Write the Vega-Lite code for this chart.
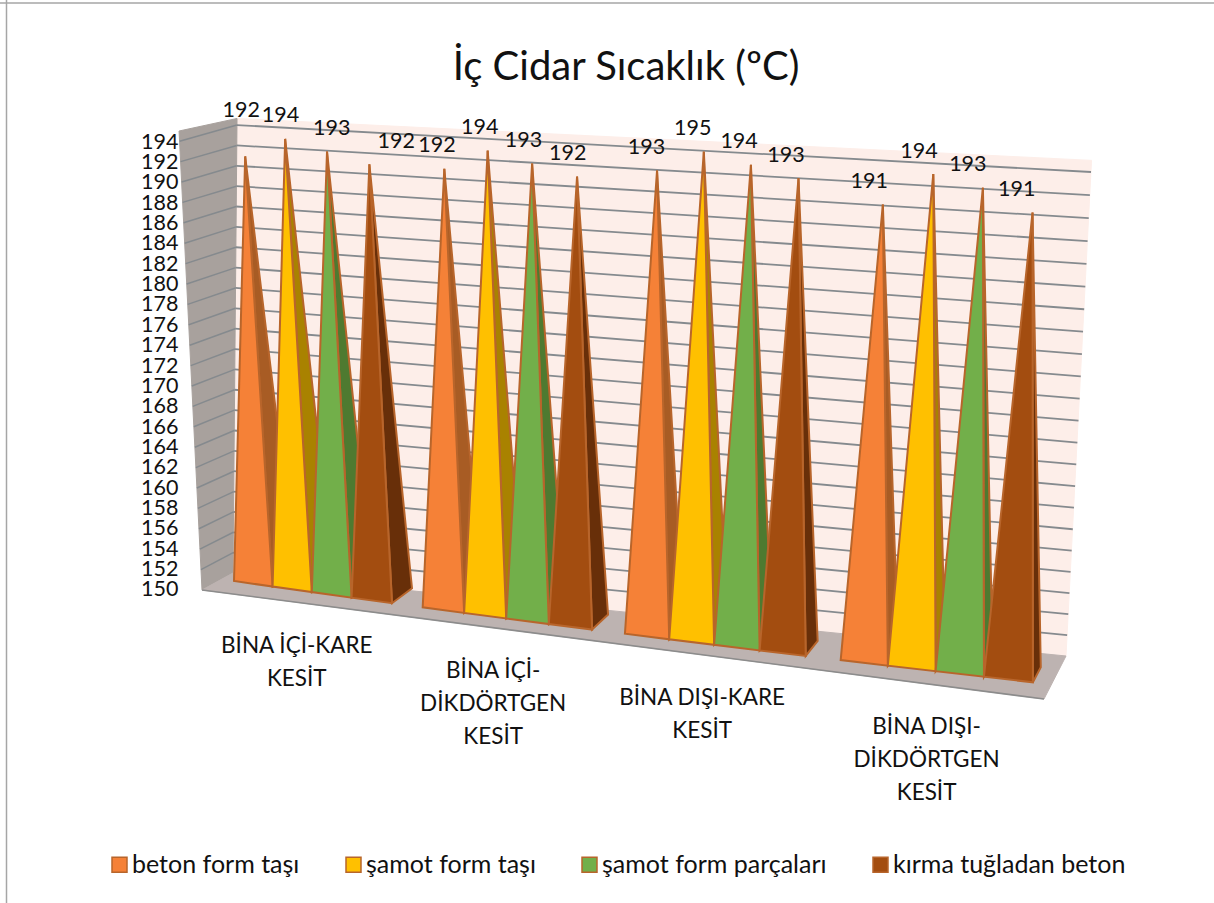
{
"$schema":"https://vega.github.io/schema/vega-lite/v6.json",
"width":1214,"height":903,"padding":0,"autosize":"none",
"background":"white",
"config":{"view":{"stroke":null},"font":"Lato"},
"title":{"text":"İç Cidar Sıcaklık (ºC)","font":"Lato","fontSize":40,"fontWeight":"normal","color":"#111111","anchor":"middle","frame":"group","dx":19,"offset":-129,"baseline":"bottom"},
"datasets":{
"bars":[
{"kesit":"BİNA İÇİ-KARE KESİT","malzeme":"beton form taşı","sicaklik":192},
{"kesit":"BİNA İÇİ-KARE KESİT","malzeme":"şamot form taşı","sicaklik":194},
{"kesit":"BİNA İÇİ-KARE KESİT","malzeme":"şamot form parçaları","sicaklik":193},
{"kesit":"BİNA İÇİ-KARE KESİT","malzeme":"kırma tuğladan beton","sicaklik":192},
{"kesit":"BİNA İÇİ-DİKDÖRTGEN KESİT","malzeme":"beton form taşı","sicaklik":192},
{"kesit":"BİNA İÇİ-DİKDÖRTGEN KESİT","malzeme":"şamot form taşı","sicaklik":194},
{"kesit":"BİNA İÇİ-DİKDÖRTGEN KESİT","malzeme":"şamot form parçaları","sicaklik":193},
{"kesit":"BİNA İÇİ-DİKDÖRTGEN KESİT","malzeme":"kırma tuğladan beton","sicaklik":192},
{"kesit":"BİNA DIŞI-KARE KESİT","malzeme":"beton form taşı","sicaklik":193},
{"kesit":"BİNA DIŞI-KARE KESİT","malzeme":"şamot form taşı","sicaklik":195},
{"kesit":"BİNA DIŞI-KARE KESİT","malzeme":"şamot form parçaları","sicaklik":194},
{"kesit":"BİNA DIŞI-KARE KESİT","malzeme":"kırma tuğladan beton","sicaklik":193},
{"kesit":"BİNA DIŞI-DİKDÖRTGEN KESİT","malzeme":"beton form taşı","sicaklik":191},
{"kesit":"BİNA DIŞI-DİKDÖRTGEN KESİT","malzeme":"şamot form taşı","sicaklik":194},
{"kesit":"BİNA DIŞI-DİKDÖRTGEN KESİT","malzeme":"şamot form parçaları","sicaklik":193},
{"kesit":"BİNA DIŞI-DİKDÖRTGEN KESİT","malzeme":"kırma tuğladan beton","sicaklik":191}
],
"kategoriler":[
{"sira":0,"satirlar":"BİNA İÇİ-KARE|KESİT"},
{"sira":1,"satirlar":"BİNA İÇİ-|DİKDÖRTGEN|KESİT"},
{"sira":2,"satirlar":"BİNA DIŞI-KARE|KESİT"},
{"sira":3,"satirlar":"BİNA DIŞI-|DİKDÖRTGEN|KESİT"}
],
"yuzeyler":[
{"yuzey":"arka","sira":0,"nokta":"BL","deger":150},
{"yuzey":"arka","sira":1,"nokta":"BR","deger":150},
{"yuzey":"arka","sira":2,"nokta":"BR","deger":195},
{"yuzey":"arka","sira":3,"nokta":"BL","deger":194.65},
{"yuzey":"sol","sira":0,"nokta":"FL","deger":150},
{"yuzey":"sol","sira":1,"nokta":"BL","deger":150},
{"yuzey":"sol","sira":2,"nokta":"BL","deger":194.65},
{"yuzey":"sol","sira":3,"nokta":"FL","deger":195},
{"yuzey":"taban","sira":0,"nokta":"FL","deger":150},
{"yuzey":"taban","sira":1,"nokta":"FR","deger":150},
{"yuzey":"taban","sira":2,"nokta":"BR","deger":150},
{"yuzey":"taban","sira":3,"nokta":"BL","deger":150}
],
"izgara":[
{"deger":152},{"deger":154},{"deger":156},{"deger":158},{"deger":160},{"deger":162},{"deger":164},{"deger":166},{"deger":168},{"deger":170},{"deger":172},{"deger":174},{"deger":176},{"deger":178},{"deger":180},{"deger":182},{"deger":184},{"deger":186},{"deger":188},{"deger":190},{"deger":192},{"deger":194}
],
"cerceve":[{"ad":"kenar"}]
},
"layer":[
{
"data":{"name":"yuzeyler"},
"transform":[
{"calculate":"datum.deger-150","as":"w"},
{"calculate":"datum.nokta=='BL'?233+0.09*datum.w:datum.nokta=='BR'?1066+0.568*datum.w:datum.nokta=='FL'?202-0.51*datum.w:1044","as":"px"},
{"calculate":"datum.nokta=='BL'?573-10.18*datum.w:datum.nokta=='BR'?656-10.4*datum.w-0.01364*datum.w*datum.w:datum.nokta=='FL'?590-10.2*datum.w:699","as":"py"},
{"calculate":"150+(590-datum.py)/10.18","as":"Y"}
],
"encoding":{
"x":{"field":"px","type":"quantitative","scale":{"domain":[0,1214],"nice":false,"zero":false},"axis":null},
"y":{"field":"Y","type":"quantitative","scale":{"domain":[119.253,207.957],"nice":false,"zero":false},"title":null,
"axis":{"values":[150,152,154,156,158,160,162,164,166,168,170,172,174,176,178,180,182,184,186,188,190,192,194],"offset":-178,"domain":false,"ticks":false,"grid":false,"labelPadding":0,"labelFont":"Lato","labelFontSize":21.5,"labelColor":"#111111","labelOverlap":false,"labelFlush":false,"encoding":{"labels":{"update":{"dx":{"signal":"(datum.value-150)*-0.53"},"dy":{"value":2}}}}}},
"order":{"field":"sira","type":"ordinal"}
},
"layer":[
{"transform":[{"filter":"datum.yuzey=='arka'"}],"mark":{"type":"line","interpolate":"linear-closed","fill":"#FDEEE9","stroke":"#FDEEE9","strokeWidth":1}},
{"transform":[{"filter":"datum.yuzey=='sol'"}],"mark":{"type":"line","interpolate":"linear-closed","fill":"#A8A19D","stroke":"#A8A19D","strokeWidth":1}},
{"transform":[{"filter":"datum.yuzey=='taban'"}],"mark":{"type":"line","interpolate":"linear-closed","fill":"#BDB3B1","stroke":"#BDB3B1","strokeWidth":1}}
]
},
{
"data":{"name":"izgara"},
"transform":[
{"calculate":"[0,1]","as":"uc"},{"flatten":["uc"]},
{"calculate":"datum.deger-150","as":"w"},
{"calculate":"datum.uc==0?233+0.09*datum.w:1066+0.568*datum.w","as":"px"},
{"calculate":"datum.uc==0?573-10.18*datum.w:656-10.4*datum.w-0.01364*datum.w*datum.w","as":"py"},
{"calculate":"150+(590-datum.py)/10.18","as":"Y"}
],
"mark":{"type":"line","stroke":"#858A8E","strokeWidth":1.8},
"encoding":{"x":{"field":"px","type":"quantitative"},"y":{"field":"Y","type":"quantitative"},"detail":{"field":"deger"},"order":{"field":"uc","type":"ordinal"}}
},
{
"data":{"name":"izgara"},
"transform":[
{"calculate":"[0,1]","as":"uc"},{"flatten":["uc"]},
{"calculate":"datum.deger-150","as":"w"},
{"calculate":"datum.uc==0?202-0.51*datum.w:233+0.09*datum.w","as":"px"},
{"calculate":"datum.uc==0?590-10.2*datum.w:573-10.18*datum.w","as":"py"},
{"calculate":"150+(590-datum.py)/10.18","as":"Y"}
],
"mark":{"type":"line","stroke":"#858A8E","strokeWidth":1.5},
"encoding":{"x":{"field":"px","type":"quantitative"},"y":{"field":"Y","type":"quantitative"},"detail":{"field":"deger"},"order":{"field":"uc","type":"ordinal"}}
},
{
"data":{"name":"yuzeyler"},
"transform":[
{"filter":"datum.yuzey=='taban'&&datum.sira<2"},
{"calculate":"datum.nokta=='FL'?202:1044","as":"px"},
{"calculate":"datum.nokta=='FL'?590:699","as":"py"},
{"calculate":"150+(590-datum.py)/10.18","as":"Y"}
],
"mark":{"type":"line","stroke":"#8C8C8C","strokeWidth":1.6},
"encoding":{"x":{"field":"px","type":"quantitative"},"y":{"field":"Y","type":"quantitative"}}
},
{
"data":{"name":"bars"},
"transform":[
{"calculate":"indexof(['BİNA İÇİ-KARE KESİT','BİNA İÇİ-DİKDÖRTGEN KESİT','BİNA DIŞI-KARE KESİT','BİNA DIŞI-DİKDÖRTGEN KESİT'],datum.kesit)","as":"g"},
{"calculate":"indexof(['beton form taşı','şamot form taşı','şamot form parçaları','kırma tuğladan beton'],datum.malzeme)","as":"b"},
{"calculate":"datum.g*4.75+datum.b","as":"s"},
{"calculate":"datum.s+0.5","as":"sc"},
{"calculate":"234+38.3*datum.s+0.3*datum.s*datum.s","as":"xL"},
{"calculate":"234+38.3*(datum.s+1)+0.3*(datum.s+1)*(datum.s+1)","as":"xR"},
{"calculate":"581+5.55*datum.s","as":"yL"},
{"calculate":"581+5.55*(datum.s+1)","as":"yR"},
{"calculate":"datum.xR+23.4-0.85*(datum.s+1)","as":"xQ"},
{"calculate":"datum.yR-15","as":"yQ"},
{"calculate":"234+38.3*datum.sc+0.3*datum.sc*datum.sc+0.5*(23.4-0.85*datum.sc)+(-20+41*(datum.sc-0.5)/17.25)*(datum.sicaklik-150)/43","as":"ax"},
{"calculate":"581+5.55*datum.sc-8-(9.95+0.07*datum.sc)*(datum.sicaklik-150)","as":"ay"},
{"calculate":"datum.g+'-'+datum.b","as":"id"}
],
"layer":[
{
"transform":[
{"calculate":"[0,1,2]","as":"k"},{"flatten":["k"]},
{"calculate":"datum.k==0?datum.xR:datum.k==1?datum.ax:datum.xQ","as":"px"},
{"calculate":"datum.k==0?datum.yR:datum.k==1?datum.ay:datum.yQ","as":"py"},
{"calculate":"150+(590-datum.py)/10.18","as":"Y"}
],
"mark":{"type":"line","interpolate":"linear-closed","stroke":"#B8652B","strokeWidth":2},
"encoding":{"x":{"field":"px","type":"quantitative"},"y":{"field":"Y","type":"quantitative"},"detail":{"field":"id"},"order":{"field":"k","type":"ordinal"},
"fill":{"field":"malzeme","type":"nominal","legend":null,"scale":{"domain":["beton form taşı","şamot form taşı","şamot form parçaları","kırma tuğladan beton"],"range":["#A85C24","#A98200","#4E7A30","#682F09"]}}}
},
{
"transform":[
{"calculate":"[0,1,2]","as":"k"},{"flatten":["k"]},
{"calculate":"datum.k==0?datum.xL:datum.k==1?datum.ax:datum.xR","as":"px"},
{"calculate":"datum.k==0?datum.yL:datum.k==1?datum.ay:datum.yR","as":"py"},
{"calculate":"150+(590-datum.py)/10.18","as":"Y"}
],
"mark":{"type":"line","interpolate":"linear-closed","stroke":"#B8652B","strokeWidth":2},
"encoding":{"x":{"field":"px","type":"quantitative"},"y":{"field":"Y","type":"quantitative"},"detail":{"field":"id"},"order":{"field":"k","type":"ordinal"},
"fill":{"field":"malzeme","type":"nominal","scale":{"domain":["beton form taşı","şamot form taşı","şamot form parçaları","kırma tuğladan beton"],"range":["#F58137","#FFC000","#72AF4A","#A34D10"]},
"legend":{"orient":"none","legendX":107,"legendY":852,"direction":"horizontal","columns":4,"title":null,"symbolType":"square","symbolSize":225,"symbolStrokeColor":"#B8652B","symbolStrokeWidth":1.5,"labelFont":"Lato","labelFontSize":25,"labelColor":"#111111","labelOffset":0,"columnPadding":41,"symbolOpacity":1,"labelLimit":400}}}
},
{
"transform":[
{"calculate":"datum.ax-4-0.68*datum.s+(datum.g==0?[0,0,10,33][datum.b]:0)","as":"px"},
{"calculate":"datum.ay+(datum.g==0&&datum.b==0?-45.5:-22.5)","as":"py"},
{"calculate":"150+(590-datum.py)/10.18","as":"Y"}
],
"mark":{"type":"text","font":"Lato","fontSize":21.5,"color":"#111111","baseline":"middle","align":"center"},
"encoding":{"x":{"field":"px","type":"quantitative"},"y":{"field":"Y","type":"quantitative"},"text":{"field":"sicaklik","type":"quantitative"}}
}
],
"resolve":{"scale":{"fill":"independent"}}
},
{
"data":{"name":"kategoriler"},
"transform":[
{"calculate":"split(datum.satirlar,'|')","as":"metin"},
{"calculate":"datum.sira*4.75+2","as":"sc"},
{"calculate":"234+38.3*datum.sc+0.3*datum.sc*datum.sc+[-15,-13,-12,-9][datum.sira]","as":"px"},
{"calculate":"590+(234+38.3*datum.sc+0.3*datum.sc*datum.sc-202)*0.1295+42","as":"py"},
{"calculate":"150+(590-datum.py)/10.18","as":"Y"}
],
"mark":{"type":"text","font":"Lato","fontSize":22.5,"color":"#111111","align":"center","baseline":"middle","lineHeight":33},
"encoding":{"x":{"field":"px","type":"quantitative"},"y":{"field":"Y","type":"quantitative"},"text":{"field":"metin"}}
},
{
"data":{"name":"cerceve"},
"mark":{"type":"rule","stroke":"#A6A6A6","strokeWidth":1.5},
"encoding":{"x":{"datum":6.5,"type":"quantitative"}}
},
{
"data":{"name":"cerceve"},
"mark":{"type":"rule","stroke":"#A6A6A6","strokeWidth":1.5},
"encoding":{"y":{"datum":207.66,"type":"quantitative"}}
}
]
}
